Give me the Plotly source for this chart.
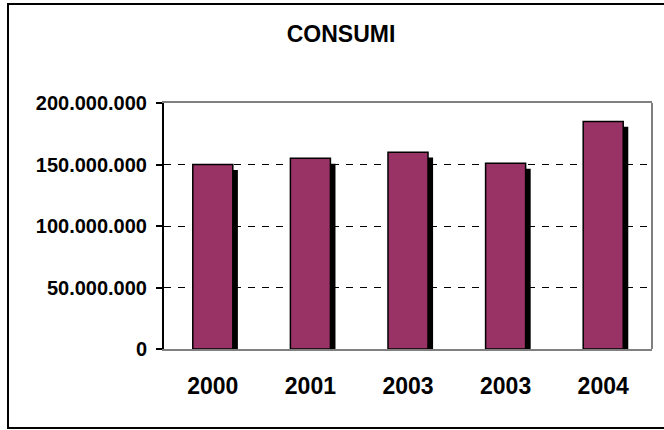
import plotly.graph_objects as go

# Annual consumption figures
years = ["2000", "2001", "2003", "2003", "2004"]
consumi = [150_000_000, 155_000_000, 160_000_000, 151_000_000, 185_000_000]
y_ticks = [0, 50_000_000, 100_000_000, 150_000_000, 200_000_000]
y_tick_labels = ["0", "50.000.000", "100.000.000", "150.000.000", "200.000.000"]

BAR_COLOR = "#993366"
FONT = "Liberation Sans"
BAR_WIDTH = 0.41
SHADOW_DX = 0.052        # shadow shift in category units
SHADOW_DY = 4_400_000    # shadow drop in value units

pos = list(range(len(years)))

fig = go.Figure()

# drop shadow behind each bar
fig.add_trace(go.Bar(
    x=[p + SHADOW_DX for p in pos],
    y=[v - SHADOW_DY for v in consumi],
    width=BAR_WIDTH,
    marker=dict(color="black", line=dict(width=0)),
    hoverinfo="skip",
    showlegend=False,
))

# main bars
fig.add_trace(go.Bar(
    x=pos,
    y=consumi,
    width=BAR_WIDTH,
    marker=dict(color=BAR_COLOR, line=dict(color="black", width=1.5)),
    showlegend=False,
))

fig.update_layout(
    width=664,
    height=430,
    margin=dict(l=164, r=12, t=103, b=81),
    paper_bgcolor="white",
    plot_bgcolor="white",
    barmode="overlay",
    title=dict(
        text="CONSUMI",
        x=341 / 664, xref="container", xanchor="center",
        y=1 - 34 / 430, yref="container", yanchor="middle",
        font=dict(family=FONT, size=23, color="black", weight="bold"),
    ),
    xaxis=dict(
        range=[-0.5, len(years) - 0.5],
        tickvals=pos,
        ticktext=years,
        ticks="",
        showgrid=False,
        zeroline=False,
        showline=True,
        linecolor="#808080",
        linewidth=2,
        mirror=True,
        ticklabelstandoff=15,
        tickfont=dict(family=FONT, size=23, color="black", weight="bold"),
    ),
    yaxis=dict(
        range=[0, 200_000_000],
        tickvals=y_ticks,
        ticktext=y_tick_labels,
        ticks="outside",
        ticklen=6,
        tickwidth=2,
        tickcolor="black",
        showline=True,
        linecolor="black",
        linewidth=2,
        showgrid=True,
        gridcolor="black",
        gridwidth=1,
        griddash="7px,7px",
        zeroline=False,
        ticklabelstandoff=5,
        tickfont=dict(family=FONT, size=20, color="black", weight="bold"),
    ),
    shapes=[
        # right edge of the plot area
        dict(type="line", xref="paper", yref="paper", x0=1, x1=1, y0=0, y1=1,
             line=dict(color="#808080", width=2), layer="above"),
        # outer chart frame
        dict(type="rect", xref="paper", yref="paper",
             x0=(8 - 164) / 488, x1=(680 - 164) / 488,
             y0=(349 - 428) / 246, y1=(349 - 4) / 246,
             line=dict(color="black", width=2), layer="above"),
    ],
)

fig.write_html("out.html")
